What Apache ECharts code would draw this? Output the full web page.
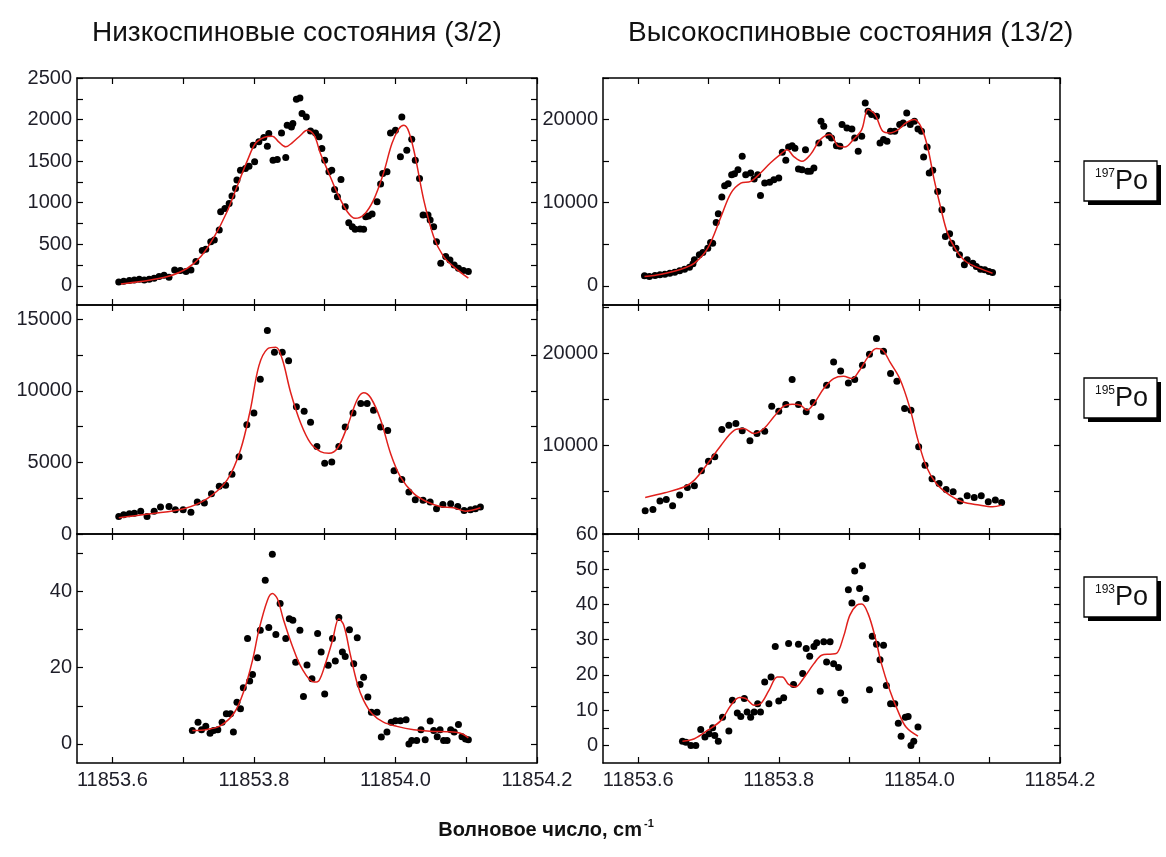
<!DOCTYPE html>
<html>
<head>
<meta charset="utf-8">
<script src="https://cdn.jsdelivr.net/npm/echarts@6/dist/echarts.min.js"></script>
<style>
  html, body { margin: 0; padding: 0; background: #fff; }
  #chart { width: 1166px; height: 857px; }
</style>
</head>
<body>
<div id="chart"></div>
<script>
// Wavenumber axis, cm^-1
const xTicks = [11853.6, 11853.7, 11853.8, 11853.9, 11854.0, 11854.1, 11854.2];
const xLabels = [11853.6, 11853.8, 11854.0, 11854.2];

// 197Po, low-spin (3/2): measured counts and fitted profile
const lowSpin197Points = [
  [11853.609,48],[11853.616,56],[11853.624,64],[11853.631,72],[11853.638,80],[11853.645,72],[11853.652,80],
  [11853.659,92],[11853.666,112],[11853.673,128],[11853.680,104],[11853.688,192],[11853.696,184],[11853.704,172],
  [11853.711,192],[11853.718,292],[11853.727,424],[11853.732,440],[11853.739,532],[11853.744,552],[11853.751,672],
  [11853.753,892],[11853.759,932],[11853.765,992],[11853.769,1080],[11853.774,1172],[11853.776,1272],[11853.781,1392],
  [11853.788,1412],[11853.793,1440],[11853.799,1692],[11853.801,1492],[11853.807,1732],[11853.814,1784],[11853.819,1680],
  [11853.821,1832],[11853.827,1512],[11853.833,1520],[11853.839,1840],[11853.845,1544],[11853.847,1932],[11853.853,1912],
  [11853.855,1952],[11853.860,2244],[11853.865,2260],[11853.868,2072],[11853.874,2032],[11853.880,1864],[11853.887,1840],
  [11853.892,1792],[11853.896,1652],[11853.900,1512],[11853.906,1372],[11853.910,1392],[11853.914,1160],[11853.918,1072],
  [11853.923,1280],[11853.929,952],[11853.934,760],[11853.939,712],[11853.943,680],[11853.950,684],[11853.955,680],
  [11853.958,832],[11853.962,840],[11853.967,864],[11853.974,1012],[11853.979,1224],[11853.982,1352],[11853.988,1372],
  [11853.993,1840],[11854.000,1872],[11854.009,2032],[11854.007,1552],[11854.016,1632],[11854.023,1764],[11854.028,1512],
  [11854.034,1292],[11854.039,852],[11854.046,852],[11854.049,792],[11854.054,712],[11854.058,532],[11854.064,272],
  [11854.071,352],[11854.077,312],[11854.083,252],[11854.089,212],[11854.096,184],[11854.103,172]
];
const lowSpin197Fit = [
  [11853.612,24],[11853.640,52],[11853.678,112],[11853.706,212],[11853.725,352],[11853.744,592],[11853.762,892],
  [11853.776,1192],[11853.791,1512],[11853.802,1712],[11853.814,1784],[11853.826,1800],[11853.835,1732],[11853.845,1672],
  [11853.854,1720],[11853.866,1812],[11853.875,1872],[11853.885,1812],[11853.894,1592],[11853.906,1352],[11853.918,1112],
  [11853.932,892],[11853.943,812],[11853.955,852],[11853.969,1032],[11853.983,1352],[11853.995,1712],[11854.005,1892],
  [11854.012,1932],[11854.019,1852],[11854.028,1552],[11854.040,1032],[11854.054,592],[11854.068,352],[11854.082,232],
  [11854.103,92]
];
const lowSpin197YTicks = [0,250,500,750,1000,1250,1500,1750,2000,2250,2500];
const lowSpin197YLabels = [0,500,1000,1500,2000,2500];

// 197Po, high-spin (13/2)
const highSpin197Points = [
  [11853.609,1205],[11853.616,1124],[11853.624,1245],[11853.631,1325],[11853.638,1406],[11853.645,1526],[11853.652,1647],
  [11853.659,1807],[11853.666,2008],[11853.673,2249],[11853.678,2651],[11853.680,3132],[11853.687,3735],[11853.692,4016],
  [11853.699,4538],[11853.703,5221],[11853.706,5140],[11853.711,7630],[11853.714,8675],[11853.719,10683],[11853.723,12048],
  [11853.728,12289],[11853.733,13373],[11853.737,13494],[11853.742,13976],[11853.748,15582],[11853.753,13373],[11853.760,13574],
  [11853.765,12851],[11853.770,13373],[11853.774,10883],[11853.780,12369],[11853.787,12450],[11853.793,12771],[11853.800,12972],
  [11853.805,16064],[11853.810,15100],[11853.814,16707],[11853.819,16867],[11853.823,16546],[11853.828,14056],[11853.833,13976],
  [11853.838,16385],[11853.841,13775],[11853.845,13775],[11853.850,14176],[11853.857,17188],[11853.860,19799],[11853.864,19196],
  [11853.871,18072],[11853.875,17791],[11853.882,16867],[11853.887,16787],[11853.890,19397],[11853.897,18996],[11853.904,18875],
  [11853.908,17791],[11853.913,16184],[11853.918,17992],[11853.923,22008],[11853.927,21004],[11853.932,20602],[11853.939,20401],
  [11853.944,17188],[11853.949,17590],[11853.954,17389],[11853.959,18594],[11853.965,18594],[11853.972,19397],[11853.977,19598],
  [11853.982,20803],[11853.987,19397],[11853.993,19799],[11853.998,18875],[11854.003,18594],[11854.006,15502],[11854.011,16707],
  [11854.014,13574],[11854.019,13895],[11854.026,11365],[11854.032,9156],[11854.037,5944],[11854.043,6265],[11854.046,5140],
  [11854.052,4538],[11854.057,3735],[11854.064,2530],[11854.068,3132],[11854.076,2731],[11854.081,2329],[11854.087,2008],
  [11854.093,1928],[11854.099,1727],[11854.104,1606]
];
const highSpin197Fit = [
  [11853.609,1124],[11853.633,1406],[11853.661,2008],[11853.680,2731],[11853.699,4538],[11853.718,8353],[11853.732,11165],
  [11853.746,12369],[11853.760,12570],[11853.774,13574],[11853.788,14779],[11853.802,15783],[11853.812,16385],[11853.821,15582],
  [11853.833,14980],[11853.845,15783],[11853.859,17590],[11853.873,18192],[11853.885,16787],[11853.894,16707],[11853.906,17590],
  [11853.918,18795],[11853.927,21204],[11853.937,20602],[11853.948,18594],[11853.958,18393],[11853.970,18795],[11853.981,19598],
  [11853.993,19999],[11854.003,18996],[11854.012,16586],[11854.021,12771],[11854.031,9156],[11854.040,6345],[11854.052,4337],
  [11854.066,2932],[11854.085,2128],[11854.104,1526]
];
const highSpin197YTicks = [0,5000,10000,15000,20000,25000];
const highSpin197YLabels = [0,10000,20000];

// 195Po, low-spin (3/2)
const lowSpin195Points = [
  [11853.609,1222],[11853.616,1340],[11853.624,1410],[11853.631,1457],[11853.640,1598],[11853.649,1222],[11853.659,1598],
  [11853.668,1880],[11853.680,1927],[11853.689,1692],[11853.700,1692],[11853.711,1528],[11853.720,2233],[11853.730,2162],
  [11853.740,2820],[11853.751,3337],[11853.760,3408],[11853.769,4183],[11853.779,5405],[11853.790,7638],[11853.800,8460],
  [11853.809,10810],[11853.819,14218],[11853.829,12690],[11853.840,12690],[11853.849,12103],[11853.860,8883],[11853.871,8578],
  [11853.880,7802],[11853.889,6110],[11853.900,4935],[11853.910,5029],[11853.920,6110],[11853.929,7473],[11853.940,8460],
  [11853.951,9118],[11853.960,9118],[11853.969,8648],[11853.979,7473],[11853.989,7238],[11853.998,4418],[11854.009,3807],
  [11854.019,2938],[11854.028,2397],[11854.039,2350],[11854.049,2233],[11854.058,1763],[11854.067,2068],[11854.078,2115],
  [11854.088,1927],[11854.097,1645],[11854.106,1692],[11854.113,1763],[11854.120,1880]
];
const lowSpin195Fit = [
  [11853.609,1128],[11853.654,1410],[11853.701,1763],[11853.734,2468],[11853.762,3760],[11853.781,5875],[11853.795,8695],
  [11853.807,11750],[11853.819,12925],[11853.831,13043],[11853.840,12220],[11853.852,9870],[11853.866,7755],[11853.880,6345],
  [11853.894,5758],[11853.906,5640],[11853.918,5993],[11853.932,7520],[11853.946,9400],[11853.955,9870],[11853.965,9518],
  [11853.979,7990],[11853.993,5640],[11854.007,3995],[11854.026,2820],[11854.045,2233],[11854.063,1927],[11854.082,1833],
  [11854.099,1598],[11854.120,1833]
];
const lowSpin195YTicks = [0,2500,5000,7500,10000,12500,15000];
const lowSpin195YLabels = [0,5000,10000,15000];

// 195Po, high-spin (13/2)
const highSpin195Points = [
  [11853.610,2836],[11853.621,2982],[11853.631,3891],[11853.640,4072],[11853.649,3381],[11853.659,4545],[11853.670,5381],
  [11853.680,5563],[11853.690,7199],[11853.700,8254],[11853.709,8726],[11853.719,11708],[11853.729,12181],[11853.739,12362],
  [11853.748,11562],[11853.759,10472],[11853.769,11272],[11853.780,11526],[11853.790,14253],[11853.800,13708],[11853.810,14435],
  [11853.819,17162],[11853.828,14435],[11853.839,13635],[11853.849,14653],[11853.860,13090],[11853.868,16544],[11853.878,19089],
  [11853.888,18107],[11853.899,16798],[11853.908,17162],[11853.919,18725],[11853.929,19925],[11853.939,21634],[11853.949,20253],
  [11853.959,17816],[11853.968,16980],[11853.979,13999],[11853.988,13817],[11853.999,9817],[11854.008,7817],[11854.018,6327],
  [11854.028,5818],[11854.038,5163],[11854.048,4909],[11854.058,3891],[11854.068,4472],[11854.078,4290],[11854.088,4472],
  [11854.098,3818],[11854.108,4000],[11854.117,3745]
];
const highSpin195Fit = [
  [11853.610,4290],[11853.638,4800],[11853.666,5454],[11853.680,6181],[11853.699,7999],[11853.718,9999],[11853.737,11635],
  [11853.750,11817],[11853.765,11272],[11853.779,11817],[11853.793,13090],[11853.807,14253],[11853.819,14471],[11853.831,14362],
  [11853.840,13817],[11853.850,14544],[11853.864,16180],[11853.878,17271],[11853.892,17526],[11853.904,17271],[11853.915,18180],
  [11853.927,19634],[11853.939,20543],[11853.948,20362],[11853.958,19089],[11853.972,17271],[11853.986,14180],[11853.998,10544],
  [11854.010,7636],[11854.024,5818],[11854.043,4545],[11854.061,3818],[11854.085,3454],[11854.104,3272],[11854.117,3454]
];
const highSpin195YTicks = [5000,10000,15000,20000,25000];
const highSpin195YLabels = [10000,20000];

// 193Po, low-spin (3/2)
const lowSpin193Points = [
  [11853.713,3.5],[11853.721,5.7],[11853.726,3.7],[11853.732,4.6],[11853.738,2.8],[11853.743,3.5],[11853.749,3.7],
  [11853.755,5.7],[11853.761,7.9],[11853.767,7.9],[11853.771,3.1],[11853.776,10.9],[11853.781,9.2],[11853.785,14.7],
  [11853.791,27.6],[11853.794,16.5],[11853.798,18.2],[11853.805,22.6],[11853.809,29.8],[11853.816,42.9],[11853.821,30.5],
  [11853.826,49.7],[11853.831,28.7],[11853.837,36.8],[11853.845,27.6],[11853.850,32.8],[11853.855,32.4],[11853.859,21.4],
  [11853.865,29.8],[11853.870,12.4],[11853.875,20.7],[11853.882,17.1],[11853.890,28.9],[11853.895,24.1],[11853.900,13.1],
  [11853.905,20.6],[11853.911,27.6],[11853.915,21.7],[11853.920,33.1],[11853.925,24.1],[11853.929,22.9],[11853.935,29.9],
  [11853.941,21.0],[11853.946,27.8],[11853.950,15.6],[11853.955,17.5],[11853.961,12.3],[11853.966,8.3],[11853.974,8.3],
  [11853.980,1.8],[11853.988,3.1],[11853.994,5.7],[11854.000,6.1],[11854.007,6.1],[11854.015,6.3],[11854.019,0],
  [11854.023,0.9],[11854.030,0.9],[11854.036,3.7],[11854.042,1.1],[11854.049,6.0],[11854.054,3.5],[11854.059,1.9],
  [11854.063,3.7],[11854.068,0.9],[11854.073,0.9],[11854.078,3.7],[11854.083,3.1],[11854.089,5.1],[11854.094,1.9],
  [11854.099,1.3],[11854.103,1.1]
];
const lowSpin193Fit = [
  [11853.713,3.5],[11853.734,3.8],[11853.753,4.8],[11853.772,8.1],[11853.786,14.0],[11853.798,21.9],[11853.807,29.8],
  [11853.819,37.6],[11853.826,39.4],[11853.833,38.1],[11853.842,32.4],[11853.854,25.8],[11853.868,19.7],[11853.885,16.2],
  [11853.892,16.6],[11853.901,21.0],[11853.911,27.1],[11853.920,32.8],[11853.927,31.1],[11853.936,23.6],[11853.946,15.8],
  [11853.955,11.4],[11853.967,7.9],[11853.983,5.7],[11854.002,4.6],[11854.026,3.7],[11854.049,3.3],[11854.073,3.2],
  [11854.092,2.8],[11854.103,1.6]
];
const lowSpin193YTicks = [0,10,20,30,40,50];
const lowSpin193YLabels = [0,20,40];

// 193Po, high-spin (13/2)
const highSpin193Points = [
  [11853.663,1.2],[11853.668,0.9],[11853.675,0],[11853.682,0],[11853.689,4.5],[11853.695,2.4],[11853.701,3.3],
  [11853.706,5.0],[11853.709,2.8],[11853.714,1.2],[11853.720,8.0],[11853.729,4.1],[11853.734,12.8],[11853.741,9.2],
  [11853.746,8.2],[11853.751,13.3],[11853.755,9.5],[11853.760,8.0],[11853.765,9.5],[11853.770,11.8],[11853.774,9.5],
  [11853.780,18.0],[11853.786,11.8],[11853.789,19.4],[11853.795,28.1],[11853.800,12.6],[11853.807,13.5],[11853.814,28.9],
  [11853.821,17.3],[11853.828,28.7],[11853.834,20.4],[11853.839,27.5],[11853.844,25.3],[11853.850,28.1],[11853.854,29.1],
  [11853.859,15.4],[11853.864,29.4],[11853.868,23.7],[11853.873,29.4],[11853.878,23.2],[11853.885,22.1],[11853.888,14.9],
  [11853.894,12.8],[11853.899,44.2],[11853.904,40.4],[11853.908,49.5],[11853.915,44.5],[11853.919,51.0],[11853.924,41.7],
  [11853.929,15.8],[11853.933,31.0],[11853.939,28.7],[11853.944,24.3],[11853.949,28.4],[11853.953,17.0],[11853.959,11.8],
  [11853.965,11.8],[11853.970,6.3],[11853.974,2.6],[11853.980,8.0],[11853.984,8.2],[11853.988,0],[11853.992,1.2],
  [11853.998,5.2]
];
const highSpin193Fit = [
  [11853.663,1.2],[11853.680,1.9],[11853.699,4.3],[11853.718,7.1],[11853.732,11.4],[11853.744,13.6],[11853.753,13.3],
  [11853.765,11.4],[11853.774,11.8],[11853.786,15.6],[11853.798,19.4],[11853.805,19.4],[11853.814,17.3],[11853.824,16.6],
  [11853.835,19.0],[11853.850,23.2],[11853.861,25.6],[11853.873,25.9],[11853.882,26.1],[11853.892,30.8],[11853.901,36.9],
  [11853.911,39.8],[11853.918,40.1],[11853.927,37.4],[11853.937,30.8],[11853.946,23.2],[11853.958,15.6],[11853.970,9.5],
  [11853.981,5.2],[11853.998,2.6]
];
const highSpin193YTicks = [0,5,10,15,20,25,30,35,40,45,50,55,60];
const highSpin193YLabels = [0,10,20,30,40,50,60];

// Column headers, isotope tags and the shared axis title
const columnTitles = ['Низкоспиновые состояния (3/2)', 'Высокоспиновые состояния (13/2)'];
const isotopeMasses = ['197', '195', '193'];
const xAxisTitle = 'Волновое число, cm';

// ---- layout ----
const FONT = '"Liberation Sans", Arial, sans-serif';
const X_MIN = 11853.55, X_MAX = 11854.2;
const colLeft = [77, 603], colWidth = [460, 457];
const rowTop = [78, 305, 534], rowHeight = [227, 229, 229];

const panels = [
  { row: 0, col: 0, points: lowSpin197Points,  fit: lowSpin197Fit,  yMin: -230, yMax: 2500,  ticks: lowSpin197YTicks,  labels: lowSpin197YLabels },
  { row: 0, col: 1, points: highSpin197Points, fit: highSpin197Fit, yMin: -2300, yMax: 25000, ticks: highSpin197YTicks, labels: highSpin197YLabels },
  { row: 1, col: 0, points: lowSpin195Points,  fit: lowSpin195Fit,  yMin: 0, yMax: 16000,     ticks: lowSpin195YTicks,  labels: lowSpin195YLabels },
  { row: 1, col: 1, points: highSpin195Points, fit: highSpin195Fit, yMin: 300, yMax: 25300,   ticks: highSpin195YTicks, labels: highSpin195YLabels },
  { row: 2, col: 0, points: lowSpin193Points,  fit: lowSpin193Fit,  yMin: -5, yMax: 55,       ticks: lowSpin193YTicks,  labels: lowSpin193YLabels },
  { row: 2, col: 1, points: highSpin193Points, fit: highSpin193Fit, yMin: -5, yMax: 60,       ticks: highSpin193YTicks, labels: highSpin193YLabels }
];

const frameLine = { color: '#000', width: 1.5 };
const tickStyle = { color: '#000', width: 1.2 };
const labelStyle = { color: '#1e1e28', fontFamily: FONT, fontSize: 20 };

const grids = [], xAxes = [], yAxes = [], series = [];
panels.forEach((p, i) => {
  grids.push({ left: colLeft[p.col], top: rowTop[p.row], width: colWidth[p.col], height: rowHeight[p.row] });
  ['bottom', 'top'].forEach(pos => {
    const showLab = pos === 'bottom' && p.row === 2;
    xAxes.push({
      type: 'value', gridIndex: i, position: pos, min: X_MIN, max: X_MAX,
      axisLine: { show: true, onZero: false, lineStyle: frameLine },
      axisTick: { show: true, inside: true, length: 6, customValues: xTicks, lineStyle: tickStyle },
      axisLabel: Object.assign({ show: showLab, customValues: xLabels, margin: 7,
        formatter: v => Number(v).toFixed(1) }, labelStyle),
      splitLine: { show: false }
    });
  });
  ['left', 'right'].forEach(pos => {
    yAxes.push({
      type: 'value', gridIndex: i, position: pos, min: p.yMin, max: p.yMax,
      axisLine: { show: true, onZero: false, lineStyle: frameLine },
      axisTick: { show: true, inside: true, length: 6, customValues: p.ticks, lineStyle: tickStyle },
      axisLabel: Object.assign({ show: pos === 'left', customValues: p.labels, margin: 5,
        formatter: v => String(Math.round(v)) }, labelStyle),
      splitLine: { show: false }
    });
  });
  series.push({
    type: 'scatter', xAxisIndex: 2 * i, yAxisIndex: 2 * i, data: p.points,
    symbol: 'circle', symbolSize: 7, itemStyle: { color: '#000', opacity: 1 }, z: 2, silent: true
  });
  series.push({
    type: 'line', xAxisIndex: 2 * i, yAxisIndex: 2 * i, data: p.fit, smooth: 0.35,
    showSymbol: false, lineStyle: { color: '#e0201c', width: 1.5 }, z: 3, silent: true
  });
});

// isotope tag boxes with a hard drop shadow
const tagTops = [161, 378, 577];
const graphics = [];
isotopeMasses.forEach((m, k) => {
  const x = 1084, y = tagTops[k], w = 73, h = 40;
  graphics.push({ type: 'rect', shape: { x: x + 4, y: y + 4, width: w, height: h }, style: { fill: '#000' }, z: 10 });
  graphics.push({ type: 'rect', shape: { x: x, y: y, width: w, height: h }, style: { fill: '#fff', stroke: '#000', lineWidth: 1.3 }, z: 11 });
  graphics.push({
    type: 'text', x: x + w / 2 + 1, y: y + h / 2 + 1, z: 12,
    style: {
      text: '{s|' + m + '}{p|Po}', align: 'center', verticalAlign: 'middle',
      rich: {
        s: { fontFamily: FONT, fontSize: 12, fill: '#111', verticalAlign: 'top', lineHeight: 28, padding: [0, 0, 12, 0] },
        p: { fontFamily: FONT, fontSize: 27, fill: '#111', lineHeight: 28 }
      }
    }
  });
});
graphics.push({ type: 'text', x: 92, y: 33, style: { text: columnTitles[0], fontFamily: FONT, fontSize: 28, fill: '#111', align: 'left', verticalAlign: 'middle' } });
graphics.push({ type: 'text', x: 628, y: 33, style: { text: columnTitles[1], fontFamily: FONT, fontSize: 28, fill: '#111', align: 'left', verticalAlign: 'middle' } });
graphics.push({
  type: 'text', x: 546, y: 830,
  style: {
    text: '{m|' + xAxisTitle + '}{s|-1}', align: 'center', verticalAlign: 'middle',
    rich: {
      m: { fontFamily: FONT, fontWeight: 'bold', fontSize: 20, fill: '#111', lineHeight: 24 },
      s: { fontFamily: FONT, fontWeight: 'bold', fontSize: 11, fill: '#111', verticalAlign: 'top', lineHeight: 24, padding: [0, 0, 12, 2] }
    }
  }
});

const chart = echarts.init(document.getElementById('chart'), null, { renderer: 'canvas' });
chart.setOption({
  animation: false,
  backgroundColor: '#fff',
  grid: grids,
  xAxis: xAxes,
  yAxis: yAxes,
  series: series,
  graphic: graphics
});
</script>
</body>
</html>
